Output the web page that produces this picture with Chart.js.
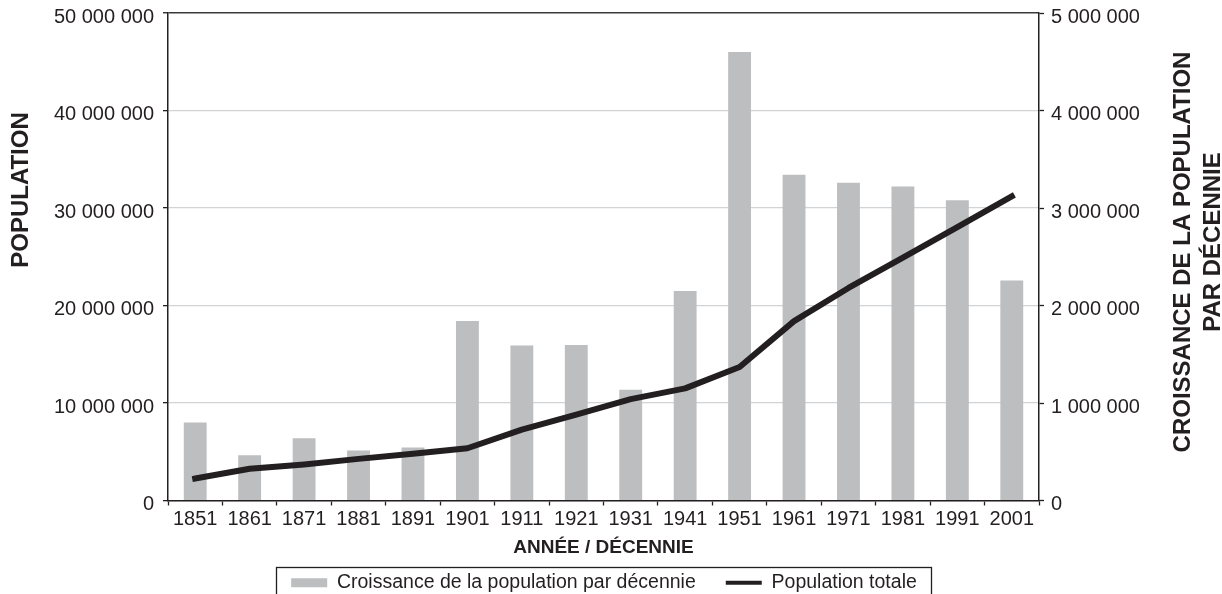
<!DOCTYPE html>
<html>
<head>
<meta charset="utf-8">
<script src="https://cdn.jsdelivr.net/npm/chart.js@4/dist/chart.umd.min.js"></script>
<style>
html,body{margin:0;padding:0;background:#fff}
#wrap{width:1222px;height:594px;position:relative}
</style>
</head>
<body>
<div id="wrap"><canvas id="c"></canvas></div>
<script>
/* Données */
const annees=['1851','1861','1871','1881','1891','1901','1911','1921','1931','1941','1951','1961','1971','1981','1991','2001'];
const croissance=[800000,464000,638000,512000,543000,1840000,1590000,1595000,1137000,2150000,4600000,3340000,3260000,3220000,3080000,2257000];
const populationTotale=[2250000,3250000,3700000,4270000,4800000,5360000,7270000,8800000,10400000,11500000,13700000,18400000,21800000,24900000,28050000,31200000];
const ticksGauche=[0,10000000,20000000,30000000,40000000,50000000];
const ticksDroite=[0,1000000,2000000,3000000,4000000,5000000];

const INK='#231f20',BAR='#bcbec0',GRID='#d1d3d4';
const FONT='"Liberation Sans", Arial, sans-serif';
const fmt=v=>String(v).replace(/\B(?=(\d{3})+(?!\d))/g,' ');
Chart.defaults.font.family=FONT;
Chart.defaults.color=INK;

// titres des axes verticaux : lus de bas en haut (le droit sur deux lignes)
const titresAxes={id:'titresAxes',afterDraw(ch){
  const c=ch.ctx,a=ch.chartArea;
  c.save();c.fillStyle=INK;c.font='bold 24px '+FONT;
  c.textAlign='center';c.textBaseline='middle';
  c.save();c.translate(21,190);c.rotate(-Math.PI/2);c.fillText('POPULATION',0,0);c.restore();
  c.translate(a.right+144,250);c.rotate(-Math.PI/2);
  c.fillText('CROISSANCE DE LA POPULATION',-2,0);
  c.fillText('PAR DÉCENNIE',8,30);
  c.restore();
}};
// cadre autour de la légende
const cadreLegende={id:'cadreLegende',afterDraw(ch){
  const hb=ch.legend&&ch.legend.legendHitBoxes;if(!hb||hb.length<2)return;
  const l=hb[0].left-15,r=hb[1].left+hb[1].width+14,t=hb[0].top-6.5;
  const c=ch.ctx;c.save();c.strokeStyle=INK;c.lineWidth=1.3;
  c.strokeRect(Math.round(l)+.5,Math.round(t)+.5,Math.round(r-l),60);c.restore();
}};

new Chart(document.getElementById('c'),{
  data:{labels:annees,datasets:[
    {type:'bar',label:'Croissance de la population par décennie',data:croissance,backgroundColor:BAR,borderWidth:0,
      yAxisID:'y1',barPercentage:0.42,categoryPercentage:1,order:1},
    {type:'line',label:'Population totale',data:populationTotale,borderColor:INK,backgroundColor:INK,borderWidth:6,
      pointRadius:0,tension:0,fill:false,yAxisID:'y',order:0,borderCapStyle:'square',borderJoinStyle:'round'}
  ]},
  options:{responsive:true,maintainAspectRatio:false,animation:false,
    layout:{padding:{top:13,left:0,right:14,bottom:-8.5}},
    plugins:{tooltip:{enabled:false},
      legend:{position:'bottom',labels:{usePointStyle:true,pointStyleWidth:36,boxHeight:9,padding:30,color:INK,font:{size:19.5},
        generateLabels:ch=>ch.data.datasets.map((d,i)=>({text:d.label,fillStyle:d.backgroundColor,strokeStyle:d.borderColor||BAR,
          lineWidth:i===0?0:4,pointStyle:i===0?'rect':'line',hidden:!ch.isDatasetVisible(i),datasetIndex:i,fontColor:INK}))}}},
    scales:{
      x:{offset:true,grid:{offset:true,drawOnChartArea:false,tickLength:5,tickColor:INK,tickWidth:1.3},
        border:{color:INK,width:1.5},
        ticks:{autoSkip:false,maxRotation:0,padding:2,color:INK,font:{size:20}},
        title:{display:true,text:'ANNÉE / DÉCENNIE',color:INK,font:{size:19,weight:'bold'},padding:{top:0,bottom:-16}},
        afterFit:s=>{s.height=42.5;}},
      y:{position:'left',min:0,max:50000000,
        afterBuildTicks:s=>{s.ticks=ticksGauche.map(v=>({value:v}));},
        grid:{color:c=>c.tick&&c.tick.value===50000000?'#3a3a3a':GRID,lineWidth:c=>c.tick&&c.tick.value===50000000?1.5:1.3,
          tickLength:5,tickColor:INK,tickWidth:1.3},
        border:{color:INK,width:1.5},
        ticks:{padding:9,labelOffset:4,color:INK,font:{size:20},callback:v=>fmt(v)},
        afterFit:s=>{s.width=168;s.paddingTop=0;s.paddingBottom=0;}},
      y1:{position:'right',min:0,max:5000000,
        afterBuildTicks:s=>{s.ticks=ticksDroite.map(v=>({value:v}));},
        grid:{drawOnChartArea:false,tickLength:5,tickColor:INK,tickWidth:1.3},
        border:{color:INK,width:1.5},
        ticks:{padding:7,labelOffset:4,color:INK,font:{size:20},callback:v=>fmt(v)},
        afterFit:s=>{s.width=169;s.paddingTop=0;s.paddingBottom=0;}}
    }},
  plugins:[titresAxes,cadreLegende]
});
</script>
</body>
</html>
